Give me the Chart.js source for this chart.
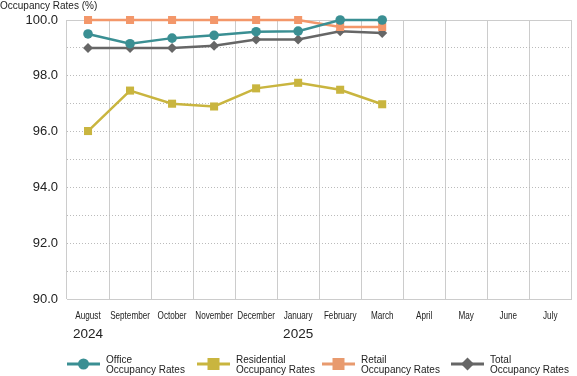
<!DOCTYPE html>
<html>
<head>
<meta charset="utf-8">
<script src="https://cdn.jsdelivr.net/npm/chart.js@4/dist/chart.umd.min.js"></script>
<style>
    html, body { margin: 0; padding: 0; background: #fff; }
    #wrap { position: relative; width: 577px; height: 376px; }
</style>
</head>
<body>
<div id="wrap"><canvas id="occChart"></canvas></div>
<script>
(function() {
    'use strict';

    // Data
    const months = ['August', 'September', 'October', 'November', 'December', 'January',
        'February', 'March', 'April', 'May', 'June', 'July'];
    const years = ['2024', '', '', '', '', '2025', '', '', '', '', '', ''];
    const officeRates = [99.5, 99.15, 99.35, 99.45, 99.58, 99.6, 100.0, 100.0];
    const residentialRates = [96.02, 97.47, 97.0, 96.9, 97.55, 97.75, 97.5, 96.98];
    const retailRates = [100.0, 100.0, 100.0, 100.0, 100.0, 100.0, 99.75, 99.75];
    const totalRates = [99.0, 99.0, 99.0, 99.08, 99.3, 99.3, 99.6, 99.53];
    const yTicks = [90, 92, 94, 96, 98, 100];

    const colors = {
        office: '#3a8f93',
        residential: '#c9b53f',
        retail: '#f3976a',
        total: '#666666',
        grid: '#cccccc',
        dots: '#bbbbbb',
        text: '#222222'
    };

    const legendItems = [
        { lines: ['Office', 'Occupancy Rates'], color: colors.office, style: 'circle', x: 67 },
        { lines: ['Residential', 'Occupancy Rates'], color: colors.residential, style: 'rect', x: 197 },
        { lines: ['Retail', 'Occupancy Rates'], color: '#e89a6e', style: 'rect', x: 322 },
        { lines: ['Total', 'Occupancy Rates'], color: colors.total, style: 'diamond', x: 451 }
    ];

    const FONT = '"Liberation Sans", Arial, Helvetica, sans-serif';

    Chart.defaults.font.family = FONT;
    Chart.defaults.color = colors.text;

    function series(label, data, color, style, radius) {
        return {
            label: label,
            data: data,
            borderColor: color,
            backgroundColor: color,
            borderWidth: 2.5,
            pointStyle: style,
            pointRadius: radius,
            pointHoverRadius: radius,
            pointBorderWidth: 0,
            tension: 0,
            clip: false
        };
    }

    // Axis title, condensed month row, year row and legend drawn on the canvas
    const extrasPlugin = {
        id: 'extras',
        afterDraw: function(chart) {
            const ctx = chart.ctx;
            const xs = chart.scales.x;
            ctx.save();
            ctx.fillStyle = colors.text;

            ctx.font = '10px ' + FONT;
            ctx.textAlign = 'left';
            ctx.textBaseline = 'middle';
            ctx.fillText('Occupancy Rates (%)', 0, 6);

            // month labels, squeezed to look like the narrow face of the original
            ctx.textAlign = 'center';
            ctx.font = '11px ' + FONT;
            months.forEach(function(m, i) {
                ctx.save();
                ctx.translate(xs.getPixelForValue(i), 316);
                ctx.scale(0.74, 1);
                ctx.fillText(m, 0, 0);
                ctx.restore();
            });

            ctx.font = '13.5px ' + FONT;
            years.forEach(function(y, i) {
                if (y) ctx.fillText(y, xs.getPixelForValue(i), 334);
            });

            legendItems.forEach(function(item) {
                const cy = 364;
                ctx.strokeStyle = item.color;
                ctx.fillStyle = item.color;
                ctx.lineWidth = 3;
                ctx.beginPath();
                ctx.moveTo(item.x, cy);
                ctx.lineTo(item.x + 33, cy);
                ctx.stroke();
                const mx = item.x + 16.5;
                ctx.beginPath();
                if (item.style === 'circle') {
                    ctx.arc(mx, cy, 5.5, 0, Math.PI * 2);
                } else if (item.style === 'rect') {
                    ctx.rect(mx - 6, cy - 6, 12, 12);
                } else {
                    ctx.moveTo(mx, cy - 6.5);
                    ctx.lineTo(mx + 6.5, cy);
                    ctx.lineTo(mx, cy + 6.5);
                    ctx.lineTo(mx - 6.5, cy);
                    ctx.closePath();
                }
                ctx.fill();

                ctx.fillStyle = colors.text;
                ctx.font = '10px ' + FONT;
                ctx.textAlign = 'left';
                ctx.fillText(item.lines[0], item.x + 39, 360);
                ctx.fillText(item.lines[1], item.x + 39, 370);
            });
            ctx.restore();
        }
    };

    const ctx = document.getElementById('occChart');
    new Chart(ctx, {
        type: 'line',
        data: {
            labels: months,
            datasets: [
                series('Office Occupancy Rates', officeRates, colors.office, 'circle', 4.8),
                series('Residential Occupancy Rates', residentialRates, colors.residential, 'rect', 5.7),
                series('Retail Occupancy Rates', retailRates, colors.retail, 'rect', 5.7),
                series('Total Occupancy Rates', totalRates, colors.total, 'rectRot', 5)
            ]
        },
        options: {
            responsive: true,
            maintainAspectRatio: false,
            animation: false,
            layout: { padding: { top: 20, right: 0, left: 0, bottom: 0 } },
            plugins: {
                legend: { display: false },
                tooltip: { enabled: false }
            },
            scales: {
                x: {
                    offset: true,
                    afterFit: function(scale) { scale.height = 77; },
                    grid: { offset: true, color: colors.grid, lineWidth: 1, drawTicks: false },
                    border: { display: true, color: colors.grid },
                    ticks: { display: false, autoSkip: false }
                },
                y: {
                    min: 90,
                    max: 100,
                    afterFit: function(scale) { scale.width = 67; },
                    afterBuildTicks: function(scale) {
                        const vals = [];
                        for (let v = 90; v <= 100; v++) vals.push({ value: v });
                        scale.ticks = vals;
                    },
                    grid: {
                        drawTicks: false,
                        color: function(c) {
                            return c.tick && c.tick.value === 100 ? colors.grid : colors.dots;
                        }
                    },
                    border: {
                        display: false,
                        dash: function(c) {
                            return c.tick && (c.tick.value === 100 || c.tick.value === 90) ? [] : [1, 2];
                        }
                    },
                    ticks: {
                        padding: 9,
                        font: { size: 13 },
                        color: colors.text,
                        callback: function(v) {
                            return yTicks.indexOf(v) >= 0 ? v.toFixed(1) : '';
                        }
                    }
                }
            }
        },
        plugins: [extrasPlugin]
    });
})();
</script>
</body>
</html>
